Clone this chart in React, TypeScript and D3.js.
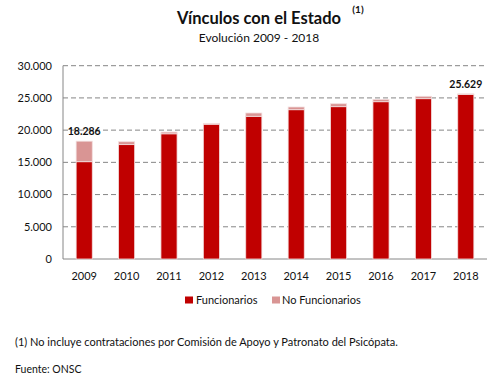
import React from "react";
import * as d3 from "d3";

const years = ["2009", "2010", "2011", "2012", "2013", "2014", "2015", "2016", "2017", "2018"];
const funcionarios = [15100, 17750, 19430, 20920, 22150, 23170, 23640, 24410, 24880, 25520];
const noFuncionarios = [3186, 450, 270, 130, 510, 420, 460, 370, 370, 109];
const yTicks = [0, 5000, 10000, 15000, 20000, 25000, 30000];
const labeledYears = ["2009", "2018"];

const FONT = "Lato, 'Noto Sans', sans-serif";
const C_FUNC = "#C00000";
const C_NOF = "#D99594";

const W = 498;
const H = 378;
const M = { left: 63, right: 487, top: 65.7, bottom: 259 };

const fmt = (v: number) => d3.format(",")(v).replace(/,/g, ".");

export default function App() {
  const x = d3.scaleBand<string>().domain(years).range([M.left, M.right]).paddingInner(0.62).paddingOuter(0.31);
  const y = d3.scaleLinear().domain([0, 30000]).range([M.bottom, M.top]);

  return (
    <svg width={W} height={H} style={{ position: "absolute", left: 0, top: 0, background: "#fff" }} fontFamily={FONT}>
      <text x={259} y={24} textAnchor="middle" fontSize={16.5} fontWeight="bold" fill="#111">
        Vínculos  con el Estado
      </text>
      <text x={358} y={13} textAnchor="middle" fontSize={10} fontWeight="bold" fill="#111">(1)</text>
      <text x={259} y={42} textAnchor="middle" fontSize={12} fill="#111">Evolución 2009 - 2018</text>

      {yTicks.map((t) => (
        <g key={t}>
          {t > 0 && (
            <line x1={M.left} x2={M.right} y1={y(t)} y2={y(t)} stroke="#868686" strokeWidth={1} strokeDasharray="5,3" />
          )}
          <text x={52} y={y(t)} dy="0.35em" textAnchor="end" fontSize={11} fill="#111">
            {fmt(t)}
          </text>
        </g>
      ))}
      <line x1={M.left} x2={M.left} y1={M.top} y2={M.bottom} stroke="#868686" strokeWidth={1} />
      <line x1={M.left} x2={M.right} y1={M.bottom} y2={M.bottom} stroke="#868686" strokeWidth={1} />

      {years.map((yr, i) => {
        const bx = x(yr)!;
        const bw = x.bandwidth();
        const f = funcionarios[i];
        const n = noFuncionarios[i];
        const total = f + n;
        return (
          <g key={yr}>
            <rect x={bx} y={y(f)} width={bw} height={y(0) - y(f)} fill={C_FUNC} stroke="#f3dede" strokeWidth={0.8} />
            <rect x={bx} y={y(total)} width={bw} height={y(f) - y(total)} fill={C_NOF} stroke="#f3dede" strokeWidth={0.8} />
            {labeledYears.includes(yr) && (
              <text x={bx + bw / 2} y={y(total) - 6} textAnchor="middle" fontSize={10.5} fontWeight="bold" fill="#111">
                {fmt(total)}
              </text>
            )}
            <text x={bx + bw / 2} y={280} textAnchor="middle" fontSize={11} fill="#111">
              {yr}
            </text>
          </g>
        );
      })}

      <rect x={185} y={296.5} width={8} height={7} fill={C_FUNC} />
      <text x={196} y={300} dy="0.35em" fontSize={11} fill="#111">Funcionarios</text>
      <rect x={272} y={296.5} width={8} height={7} fill={C_NOF} />
      <text x={282} y={300} dy="0.35em" fontSize={11} fill="#111">No Funcionarios</text>

      <text x={15} y={342} dy="0.35em" fontSize={11} fill="#111">
        (1) No  incluye contrataciones por Comisión de Apoyo  y Patronato del  Psicópata.
      </text>
      <text x={15} y={369} dy="0.35em" fontSize={10.5} fill="#111">Fuente:  ONSC</text>
    </svg>
  );
}
